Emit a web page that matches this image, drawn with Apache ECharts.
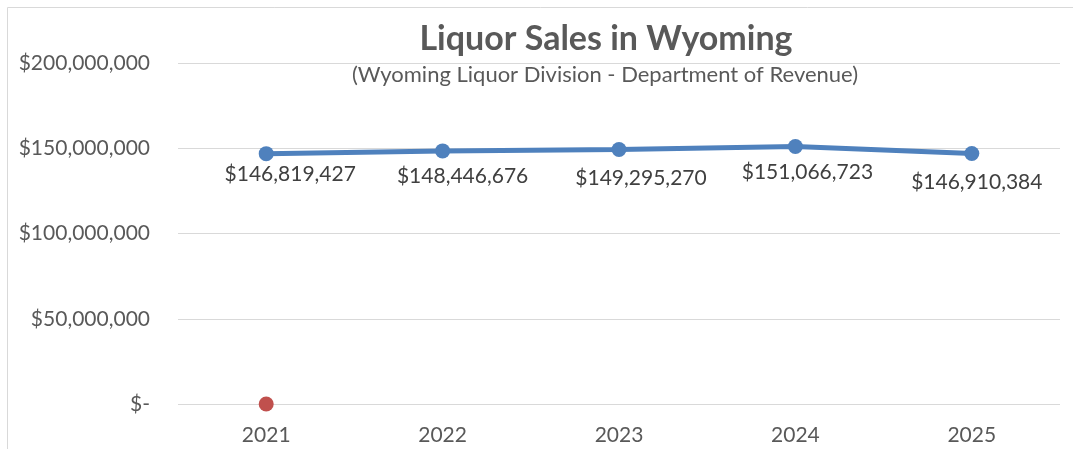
<!DOCTYPE html>
<html>
<head>
<meta charset="utf-8">
<script src="https://cdn.jsdelivr.net/npm/echarts@6/dist/echarts.min.js"></script>
<style>
    html, body { margin: 0; padding: 0; background: #fff; }
    #chart { width: 1073px; height: 449px; }
</style>
</head>
<body>
<div id="chart"></div>
<script>
// chart data
var years = ["2021", "2022", "2023", "2024", "2025"];
var sales = [146819427, 148446676, 149295270, 151066723, 146910384];
var zeroPoint = [0, null, null, null, null];

var font = "Lato, 'Open Sans', sans-serif";

// labels were nudged by hand in the original, keep the same nudge here
var labelNudge = [[24, 1], [20, 5], [22, 9], [12, 6], [5, 9]];

function money(v) {
    if (v === 0) return "$-";
    return "$" + v.toLocaleString("en-US");
}

var salesData = sales.map(function (v, i) {
    return { value: v, label: { offset: labelNudge[i] } };
});

var chart = echarts.init(document.getElementById("chart"));

var option = {
    animation: false,
    textStyle: { fontFamily: font },
    graphic: [
        {
            type: "rect",
            shape: { x: 7.5, y: 7.5, width: 1080, height: 460 },
            style: { fill: "none", stroke: "#d9d9d9", lineWidth: 1 },
            silent: true
        }
    ],
    title: [
        {
            text: "Liquor Sales in Wyoming",
            left: 601,
            top: 17,
            textAlign: "center",
            textStyle: { fontFamily: font, fontSize: 34, fontWeight: "bold", color: "#595959" }
        },
        {
            text: "(Wyoming Liquor Division - Department of Revenue)",
            left: 600,
            top: 59,
            textAlign: "center",
            textStyle: { fontFamily: font, fontSize: 22, fontWeight: "normal", color: "#595959" }
        }
    ],
    grid: { left: 178, right: 13, top: 63, bottom: 45 },
    xAxis: {
        type: "category",
        data: years,
        axisLine: { show: false },
        axisTick: { show: false },
        axisLabel: { fontFamily: font, fontSize: 21, color: "#595959", margin: 21 }
    },
    yAxis: {
        type: "value",
        min: 0,
        max: 200000000,
        interval: 50000000,
        axisLine: { show: false },
        axisTick: { show: false },
        splitLine: { lineStyle: { color: "#d9d9d9", width: 1 } },
        axisLabel: {
            fontFamily: font,
            fontSize: 21,
            color: "#595959",
            margin: 28,
            formatter: function (v) { return money(v); }
        }
    },
    series: [
        {
            name: "Sales",
            type: "line",
            data: salesData,
            symbol: "circle",
            symbolSize: 15,
            itemStyle: { color: "#4f81bd" },
            lineStyle: { color: "#4f81bd", width: 5 },
            label: {
                show: true,
                position: "bottom",
                distance: 2,
                fontFamily: font,
                fontSize: 21,
                color: "#404040",
                formatter: function (p) { return money(p.value); }
            },
            z: 3
        },
        {
            name: "Zero",
            type: "line",
            data: zeroPoint,
            symbol: "circle",
            symbolSize: 15,
            showSymbol: true,
            itemStyle: { color: "#c0504d" },
            lineStyle: { width: 0 },
            z: 4
        }
    ]
};

chart.setOption(option);
</script>
</body>
</html>
